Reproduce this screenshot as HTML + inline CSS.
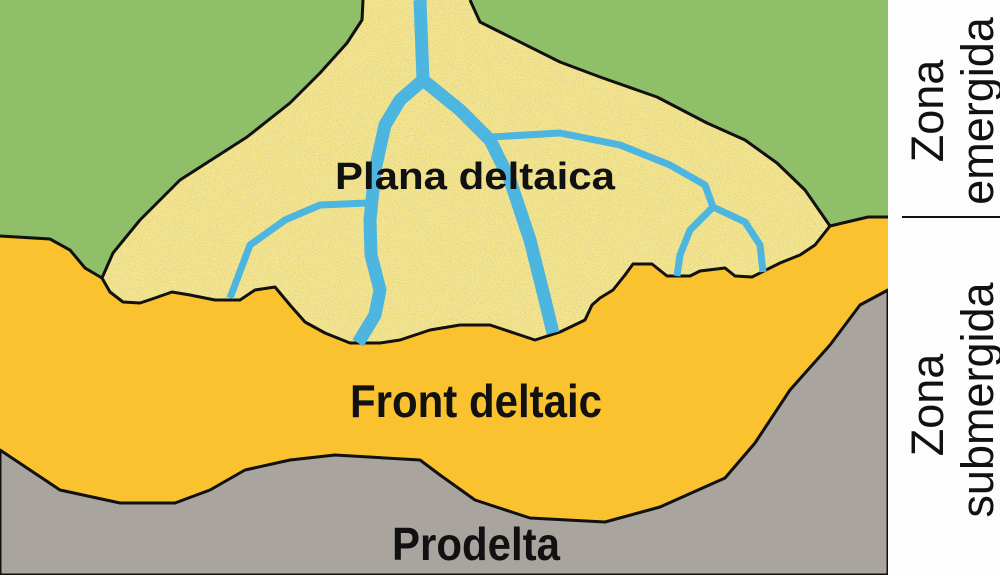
<!DOCTYPE html>
<html><head><meta charset="utf-8"><style>
html,body{margin:0;padding:0;background:#fff;}
svg{display:block;}
</style></head><body>
<svg width="1000" height="575" viewBox="0 0 1000 575" xmlns="http://www.w3.org/2000/svg">
<defs>
<filter id="sand" x="0" y="0" width="100%" height="100%">
<feTurbulence type="fractalNoise" baseFrequency="1.1" numOctaves="2" seed="3" result="n"/>
<feColorMatrix in="n" type="matrix" values="0 0 0 0 0.55  0 0 0 0 0.47  0 0 0 0 0.32  0 0 0 -3 1.45" result="d"/>
<feComposite in="d" in2="SourceGraphic" operator="in" result="dd"/>
<feMerge><feMergeNode in="SourceGraphic"/><feMergeNode in="dd"/></feMerge>
</filter>
</defs>
<rect x="0" y="0" width="888" height="575" fill="#8fbf68"/>
<path d="M0,236 L50,239 L70,250 L85,268 L102,278 L830,226 L868,217 L888,217 L888,575 L0,575 Z" fill="#f9c22e"/>
<path d="M0,236 L50,239 L70,250 L85,268 L102,278" fill="none" stroke="#111" stroke-width="3"/>
<path d="M830,226 L868,217 L888,217" fill="none" stroke="#111" stroke-width="3"/>
<path d="M0,450 L30,470 L60,490 L120,503 L175,503 L210,490 L245,470 L290,460 L335,455 L420,460 L440,475 L475,500 L530,518 L605,522 L660,507 L725,478 L755,443 L790,390 L830,345 L860,305 L888,290 L888,575 L0,575 Z" fill="#aaa49f" stroke="#111" stroke-width="3" stroke-linejoin="round"/>
<path d="M363,0 L362,20 L347,43 L320,73 L290,103 L247,137 L180,180 L140,220 L113,253 L102,278 L110,292 L123,302 L140,303 L155,298 L172,292 L190,295 L215,300 L240,300 L255,290 L275,287 L290,305 L305,322 L325,333 L350,343 L380,343 L400,340 L430,330 L460,325 L490,325 L520,335 L535,340 L560,332 L585,320 L592,305 L600,298 L613,290 L625,275 L633,264 L652,264 L667,276 L690,276 L700,271 L725,268 L735,276 L752,277 L780,263 L800,255 L815,245 L830,226 L805,190 L777,163 L745,140 L707,123 L657,97 L600,77 L560,62 L500,32 L480,22 L470,0 Z" fill="#f5e68c" filter="url(#sand)"/>
<path d="M363,0 L362,20 L347,43 L320,73 L290,103 L247,137 L180,180 L140,220 L113,253 L102,278 L110,292 L123,302 L140,303 L155,298 L172,292 L190,295 L215,300 L240,300 L255,290 L275,287 L290,305 L305,322 L325,333 L350,343 L380,343 L400,340 L430,330 L460,325 L490,325 L520,335 L535,340 L560,332 L585,320 L592,305 L600,298 L613,290 L625,275 L633,264 L652,264 L667,276 L690,276 L700,271 L725,268 L735,276 L752,277 L780,263 L800,255 L815,245 L830,226 L805,190 L777,163 L745,140 L707,123 L657,97 L600,77 L560,62 L500,32 L480,22 L470,0" fill="none" stroke="#111" stroke-width="3" stroke-linejoin="round"/>
<g fill="none" stroke="#4db6e0" stroke-linejoin="round" stroke-linecap="butt">
<path d="M420,0 L423,80 L400,100 L385,125 L375,170 L370,220 L371,255 L380,290 L375,315 L358,343" stroke-width="13"/>
<path d="M423,80 L460,110 L490,140 L510,180 L530,240 L545,300 L553,333" stroke-width="13"/>
<path d="M368,203 L320,205 L285,220 L250,245 L230,298" stroke-width="7"/>
<path d="M492,137 L560,133 L620,145 L670,165 L705,185 L713,207 L690,230 L680,255 L677,276" stroke-width="7"/>
<path d="M713,207 L745,222 L760,245 L763,272" stroke-width="7"/>
</g>
<g font-family="'Liberation Sans',Arial,sans-serif" font-weight="bold" fill="#111">
<text x="475" y="189" font-size="38" text-anchor="middle" textLength="280" lengthAdjust="spacingAndGlyphs">Plana deltaica</text>
<text x="476" y="417" font-size="46" text-anchor="middle" textLength="252" lengthAdjust="spacingAndGlyphs">Front deltaic</text>
<text x="476" y="560" font-size="46" text-anchor="middle" textLength="168" lengthAdjust="spacingAndGlyphs">Prodelta</text>
</g>
<rect x="888" y="0" width="112" height="575" fill="#fdfdfd"/>
<line x1="902" y1="217" x2="1000" y2="217" stroke="#111" stroke-width="2"/>
<g font-family="'Liberation Sans',Arial,sans-serif" font-size="45" fill="#111" text-anchor="middle">
<text transform="translate(943,111) rotate(-90)">Zona</text>
<text transform="translate(993,111) rotate(-90)">emergida</text>
<text transform="translate(943,405) rotate(-90)">Zona</text>
<text transform="translate(993,400) rotate(-90)">submergida</text>
</g>
</svg>
</body></html>
